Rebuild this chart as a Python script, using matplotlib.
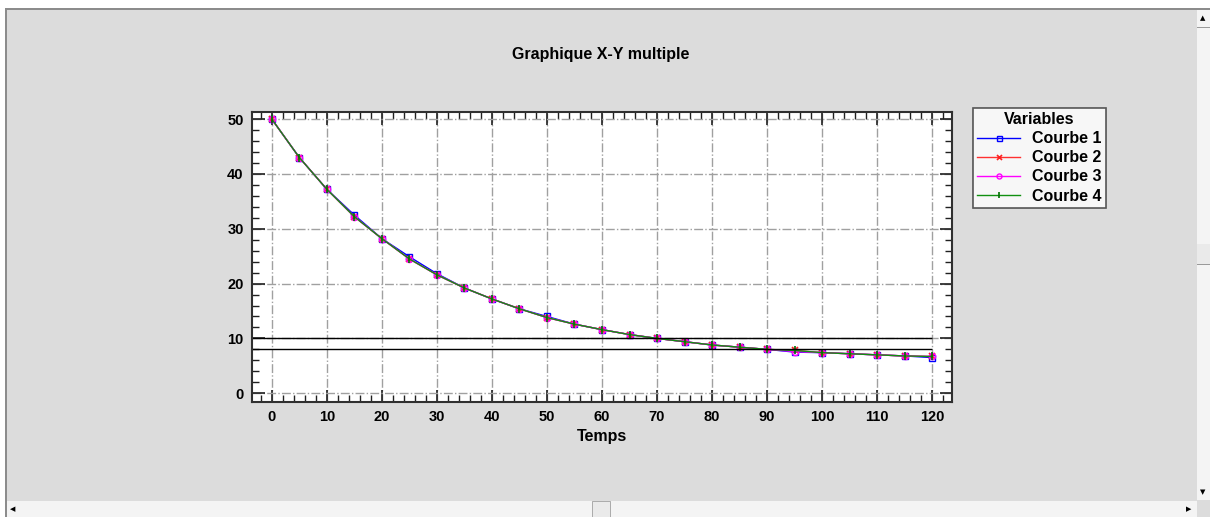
import matplotlib
matplotlib.use("Agg")
import matplotlib.pyplot as plt
from matplotlib.patches import Rectangle
from matplotlib.ticker import MultipleLocator

plt.rcParams['font.family'] = ['Liberation Sans', 'DejaVu Sans']

temps = [0, 5, 10, 15, 20, 25, 30, 35, 40, 45, 50, 55, 60, 65, 70, 75, 80, 85, 90, 95, 100, 105, 110, 115, 120]
courbe1 = [50, 43.0, 37.2, 32.5, 28.2, 24.9, 21.8, 19.2, 17.2, 15.4, 14.0, 12.6, 11.6, 10.7, 10.0, 9.4, 8.8, 8.4, 8.0, 7.5, 7.4, 7.2, 7.0, 6.8, 6.5]
courbe2 = [50, 43.0, 37.2, 32.2, 28.2, 24.5, 21.6, 19.2, 17.2, 15.4, 13.8, 12.6, 11.6, 10.7, 10.0, 9.4, 8.8, 8.4, 8.0, 7.8, 7.4, 7.2, 7.0, 6.8, 6.7]
courbe3 = [50, 43.0, 37.2, 32.2, 28.2, 24.5, 21.6, 19.2, 17.2, 15.4, 13.8, 12.6, 11.6, 10.7, 10.0, 9.4, 8.8, 8.4, 8.0, 7.6, 7.4, 7.2, 7.0, 6.8, 6.7]
courbe4 = [50, 43.0, 37.2, 32.2, 28.2, 24.5, 21.6, 19.2, 17.2, 15.4, 13.8, 12.6, 11.6, 10.7, 10.0, 9.4, 8.8, 8.4, 8.0, 7.8, 7.4, 7.2, 7.0, 6.8, 6.7]
seuils = [10, 8]
labels = ["Courbe 1", "Courbe 2", "Courbe 3", "Courbe 4"]

W, H = 1210, 517
fig = plt.figure(figsize=(W / 100, H / 100), dpi=100)
fig.patch.set_facecolor('white')

def px(x, y, w, h, **kw):
    fig.add_artist(Rectangle((x / W, 1 - (y + h) / H), w / W, h / H,
                             transform=fig.transFigure, zorder=-10, **kw))

# window panel
px(5, 9, 1192, 492, facecolor='#DCDCDC', edgecolor='none')
px(5, 8, 1205, 2, facecolor='#8C8C8C', edgecolor='none')
px(5, 8, 2, 509, facecolor='#8C8C8C', edgecolor='none')
# right scrollbar
px(1197, 10, 13, 490, facecolor='#F4F4F4', edgecolor='none')
px(1197, 27, 13, 1, facecolor='#9A9A9A', edgecolor='none')
px(1197, 244, 13, 20, facecolor='#EAEAEA', edgecolor='none')
px(1197, 264, 13, 1, facecolor='#9A9A9A', edgecolor='none')
# bottom scrollbar
px(7, 501, 1190, 16, facecolor='#F4F4F4', edgecolor='none')
px(592, 501, 18, 16, facecolor='#EAEAEA', edgecolor='#A0A0A0', linewidth=0.6)
px(1197, 500, 13, 17, facecolor='#DCDCDC', edgecolor='none')
fig.text(1203 / W, 1 - 18 / H, '▲', fontsize=5, ha='center', va='center', family=['DejaVu Sans'])
fig.text(1203 / W, 1 - 492 / H, '▼', fontsize=5, ha='center', va='center', family=['DejaVu Sans'])
fig.text(13 / W, 1 - 509 / H, '◀', fontsize=5, ha='center', va='center', family=['DejaVu Sans'])
fig.text(1189 / W, 1 - 509 / H, '▶', fontsize=5, ha='center', va='center', family=['DejaVu Sans'])

ax = fig.add_axes([252 / W, 1 - 402 / H, 700 / W, 290 / H])
ax.set_facecolor('white')

ax.plot(temps, courbe1, color='#0000FF', lw=1, marker='s', ms=4.5, mfc='none', mec='#0000FF', mew=1, label=labels[0])
ax.plot(temps, courbe2, color='#FF3030', lw=1, marker='x', ms=4.5, mec='#FF2020', mew=1.2, label=labels[1])
ax.plot(temps, courbe3, color='#FF00FF', lw=1, marker='o', ms=4.5, mfc='none', mec='#FF00FF', mew=1, label=labels[2])
ax.plot(temps, courbe4, color='#109010', lw=1, marker='|', ms=6, mec='#007000', mew=1.2, label=labels[3])

xmin, xmax = -3.6, 123.6
ax.hlines(seuils, xmin, 120, colors='black', lw=1)

ax.set_xlim(xmin, xmax)
ax.set_ylim(-1.6, 51.3)
ax.xaxis.set_major_locator(MultipleLocator(10))
ax.xaxis.set_minor_locator(MultipleLocator(2))
ax.yaxis.set_major_locator(MultipleLocator(10))
ax.yaxis.set_minor_locator(MultipleLocator(2))
ax.tick_params(which='both', direction='in', top=True, right=True, color='#202020')
ax.tick_params(which='major', length=9, width=1.2, labelsize=10.5, pad=6)
ax.tick_params(which='minor', length=5, width=1)
for lab in ax.get_xticklabels() + ax.get_yticklabels():
    lab.set_fontweight('bold')
ax.grid(True, which='major', color='#A0A0A0', linestyle='-.', lw=1)
for s in ax.spines.values():
    s.set_linewidth(1.5)
    s.set_color('#303030')

ax.set_xlabel('Temps', fontsize=11.5, fontweight='bold', labelpad=3)
fig.text(601 / W, 1 - 54 / H, 'Graphique X-Y multiple', fontsize=11.5, fontweight='bold',
         ha='center', va='center')

leg = ax.legend(loc='upper left', bbox_to_anchor=(973 / W, 1 - 108 / H), bbox_transform=fig.transFigure,
                title='Variables', frameon=True, fancybox=False, edgecolor='#303030',
                prop={'weight': 'bold', 'size': 11.5}, handlelength=2.7, handletextpad=0.75,
                labelspacing=0.26, borderpad=0.25, borderaxespad=0, markerscale=0.8)
leg.get_title().set_fontweight('bold')
leg.get_title().set_fontsize(11.5)
leg.get_frame().set_linewidth(1.2)

fig.savefig('out.png', dpi=100, facecolor=fig.get_facecolor())
